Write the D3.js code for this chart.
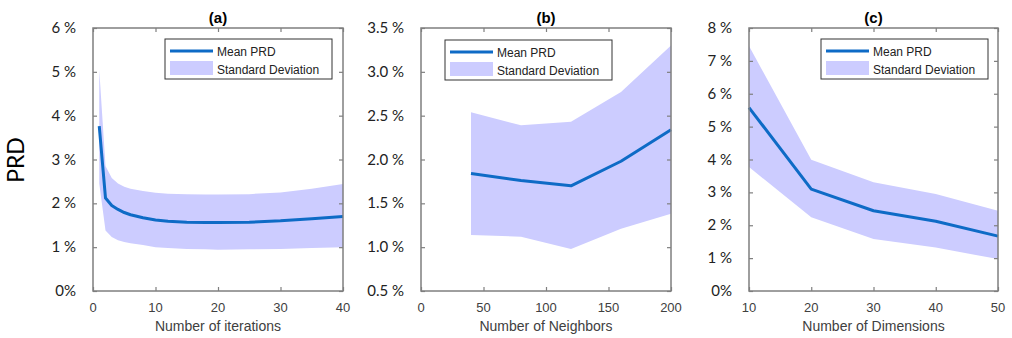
<!DOCTYPE html>
<html>
<head>
<meta charset="utf-8">
<script src="https://cdn.jsdelivr.net/npm/d3@7"></script>
<style>
  html, body { margin: 0; padding: 0; background: #fff; }
  svg { display: block; }
</style>
</head>
<body>
<svg id="chart" width="1012" height="338"></svg>
<script>
// ---- Panel (a): PRD vs. number of iterations ----
const iterations = [1, 2, 3, 4, 5, 6, 8, 10, 12, 15, 18, 20, 25, 30, 35, 40];
const iterMean  = [3.76, 2.12, 1.95, 1.86, 1.79, 1.74, 1.67, 1.62, 1.59, 1.57, 1.56, 1.56, 1.57, 1.60, 1.65, 1.70];
const iterUpper = [5.05, 2.85, 2.58, 2.45, 2.38, 2.33, 2.28, 2.24, 2.22, 2.21, 2.20, 2.20, 2.21, 2.25, 2.33, 2.44];
const iterLower = [2.45, 1.38, 1.23, 1.16, 1.12, 1.09, 1.05, 1.00, 0.98, 0.96, 0.95, 0.94, 0.95, 0.96, 0.98, 1.00];
const iterXTicks = [0, 10, 20, 30, 40];
const iterYTicks = [0, 1, 2, 3, 4, 5, 6];
const iterYLabels = ["0%", "1 %", "2 %", "3 %", "4 %", "5 %", "6 %"];

// ---- Panel (b): PRD vs. number of neighbors ----
const neighbors = [40, 80, 120, 160, 200];
const neighMean  = [1.84, 1.76, 1.70, 1.98, 2.34];
const neighUpper = [2.54, 2.39, 2.43, 2.77, 3.30];
const neighLower = [1.14, 1.12, 0.98, 1.21, 1.38];
const neighXTicks = [0, 50, 100, 150, 200];
const neighYTicks = [0.5, 1.0, 1.5, 2.0, 2.5, 3.0, 3.5];
const neighYLabels = ["0.5 %", "1.0 %", "1.5 %", "2.0 %", "2.5 %", "3.0 %", "3.5 %"];

// ---- Panel (c): PRD vs. number of dimensions ----
const dimensions = [10, 20, 30, 40, 50];
const dimMean  = [5.58, 3.10, 2.44, 2.12, 1.67];
const dimUpper = [7.45, 3.99, 3.31, 2.95, 2.44];
const dimLower = [3.77, 2.24, 1.58, 1.32, 0.97];
const dimXTicks = [10, 20, 30, 40, 50];
const dimYTicks = [0, 1, 2, 3, 4, 5, 6, 7, 8];
const dimYLabels = ["0%", "1 %", "2 %", "3 %", "4 %", "5 %", "6 %", "7 %", "8 %"];

const legendLabels = ["Mean PRD", "Standard Deviation"];

const LINE_COLOR = "#0e6bc6";
const BAND_COLOR = "#ccccff";
const AXIS_COLOR = "#7f7f7f";

const svg = d3.select("#chart");

// Y axis title shared by all panels
svg.append("text")
  .attr("transform", "translate(24,160) rotate(-90)")
  .attr("text-anchor", "middle")
  .attr("font-family", "Lato, 'Open Sans', sans-serif")
  .attr("font-size", 23)
  .attr("fill", "#000")
  .text("PRD");

function drawPanel(cfg) {
  const { left, right, top, bottom } = cfg.box;
  const x = d3.scaleLinear().domain(cfg.xDomain).range([left, right]);
  const y = d3.scaleLinear().domain(cfg.yDomain).range([bottom, top]);
  const g = svg.append("g");

  const rows = cfg.xs.map((v, i) => ({ x: v, m: cfg.mean[i], hi: cfg.upper[i], lo: cfg.lower[i] }));

  // standard deviation band
  g.append("path")
    .datum(rows)
    .attr("fill", BAND_COLOR)
    .attr("d", d3.area().x(d => x(d.x)).y0(d => y(d.lo)).y1(d => y(d.hi)));

  // mean line
  g.append("path")
    .datum(rows)
    .attr("fill", "none")
    .attr("stroke", LINE_COLOR)
    .attr("stroke-width", 3)
    .attr("stroke-linejoin", "round")
    .attr("d", d3.line().x(d => x(d.x)).y(d => y(d.m)));

  // inward ticks on all four sides
  const tl = 4;
  const axisStyle = sel => {
    sel.select(".domain").remove();
    sel.selectAll(".tick line").attr("stroke", AXIS_COLOR).attr("stroke-width", 1.2);
  };
  g.append("g").attr("transform", `translate(0,${bottom})`)
    .call(d3.axisBottom(x).tickValues(cfg.xTicks).tickSize(-tl).tickFormat(""))
    .call(axisStyle);
  g.append("g").attr("transform", `translate(0,${top})`)
    .call(d3.axisTop(x).tickValues(cfg.xTicks).tickSize(-tl).tickFormat(""))
    .call(axisStyle);
  g.append("g").attr("transform", `translate(${left},0)`)
    .call(d3.axisLeft(y).tickValues(cfg.yTicks).tickSize(-tl).tickFormat(""))
    .call(axisStyle);
  g.append("g").attr("transform", `translate(${right},0)`)
    .call(d3.axisRight(y).tickValues(cfg.yTicks).tickSize(-tl).tickFormat(""))
    .call(axisStyle);

  // frame
  g.append("rect")
    .attr("x", left).attr("y", top)
    .attr("width", right - left).attr("height", bottom - top)
    .attr("fill", "none").attr("stroke", AXIS_COLOR).attr("stroke-width", 1.5);

  // x tick labels
  g.append("g").selectAll("text").data(cfg.xTicks).join("text")
    .attr("x", d => x(d)).attr("y", bottom + 21)
    .attr("text-anchor", "middle")
    .attr("font-family", "'Liberation Sans', Arial, sans-serif")
    .attr("font-size", 13)
    .attr("fill", "#404040")
    .text(d => String(d));

  // y tick labels
  g.append("g").selectAll("text").data(cfg.yTicks).join("text")
    .attr("x", left - 17).attr("y", d => y(d) + 5)
    .attr("text-anchor", "end")
    .attr("font-family", "Lato, 'Open Sans', sans-serif")
    .attr("font-size", 15)
    .attr("fill", "#222")
    .text((d, i) => cfg.yLabels[i]);

  // x axis title
  g.append("text")
    .attr("x", (left + right) / 2).attr("y", bottom + 40)
    .attr("text-anchor", "middle")
    .attr("font-family", "'Liberation Sans', Arial, sans-serif")
    .attr("font-size", 14)
    .attr("fill", "#404040")
    .text(cfg.xTitle);

  // panel title
  g.append("text")
    .attr("x", (left + right) / 2).attr("y", top - 5)
    .attr("text-anchor", "middle")
    .attr("font-family", "'Liberation Sans', Arial, sans-serif")
    .attr("font-size", 15)
    .attr("font-weight", "bold")
    .attr("fill", "#000")
    .text(cfg.title);

  // legend
  const lg = g.append("g").attr("transform", `translate(${cfg.legend[0]},${cfg.legend[1]})`);
  lg.append("rect").attr("width", 167).attr("height", 40)
    .attr("fill", "#fff").attr("stroke", "#333").attr("stroke-width", 1);
  lg.append("line").attr("x1", 5).attr("x2", 48).attr("y1", 12).attr("y2", 12)
    .attr("stroke", LINE_COLOR).attr("stroke-width", 3);
  lg.append("rect").attr("x", 5).attr("y", 22).attr("width", 43).attr("height", 14)
    .attr("fill", BAND_COLOR);
  lg.selectAll("text.lbl").data(legendLabels).join("text")
    .attr("class", "lbl")
    .attr("x", 52).attr("y", (d, i) => 16.5 + i * 18)
    .attr("font-family", "'Liberation Sans', Arial, sans-serif")
    .attr("font-size", 12)
    .attr("fill", "#222")
    .text(d => d);
}

drawPanel({
  box: { left: 93, right: 343, top: 28, bottom: 291 },
  xDomain: [0, 40], yDomain: [0, 6],
  xs: iterations, mean: iterMean, upper: iterUpper, lower: iterLower,
  xTicks: iterXTicks, yTicks: iterYTicks, yLabels: iterYLabels,
  xTitle: "Number of iterations", title: "(a)", legend: [165, 39]
});

drawPanel({
  box: { left: 421, right: 671, top: 28, bottom: 291 },
  xDomain: [0, 200], yDomain: [0.5, 3.5],
  xs: neighbors, mean: neighMean, upper: neighUpper, lower: neighLower,
  xTicks: neighXTicks, yTicks: neighYTicks, yLabels: neighYLabels,
  xTitle: "Number of Neighbors", title: "(b)", legend: [445, 40]
});

drawPanel({
  box: { left: 749, right: 998, top: 28, bottom: 291 },
  xDomain: [10, 50], yDomain: [0, 8],
  xs: dimensions, mean: dimMean, upper: dimUpper, lower: dimLower,
  xTicks: dimXTicks, yTicks: dimYTicks, yLabels: dimYLabels,
  xTitle: "Number of Dimensions", title: "(c)", legend: [821, 39]
});
</script>
</body>
</html>
